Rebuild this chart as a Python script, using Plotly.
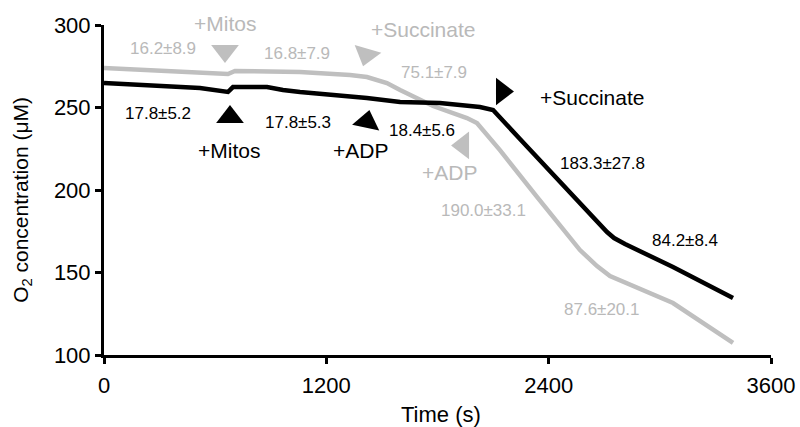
import plotly.graph_objects as go

# ---------------- data ----------------
time_black = [0, 248, 518, 669, 696, 880, 966, 1058, 1236, 1419, 1598, 1813, 2029, 2100,
              2245, 2461, 2677, 2715, 2753, 2812, 3071, 3395]
o2_black = [264.8, 263.6, 261.8, 259.4, 262.4, 262.4, 260.6, 259.4, 257.6, 255.8, 253.3, 252.7,
            250.3, 248.5, 230.9, 204.8, 179.4, 174.5, 170.9, 167.3, 153.3, 134.5]

time_gray = [0, 518, 642, 669, 707, 1058, 1328, 1419, 1527, 1598, 1776, 1959, 2013, 2137,
             2337, 2477, 2569, 2661, 2731, 3071, 3395]
o2_gray = [273.9, 271.5, 270.9, 270.3, 272.1, 271.5, 269.7, 268.5, 264.8, 260.6, 250.9, 243.6,
           240.6, 224.2, 195.8, 177.0, 163.6, 153.9, 147.9, 131.5, 107.3]

rate_labels_black = ["17.8±5.2", "17.8±5.3", "18.4±5.6", "183.3±27.8", "84.2±8.4"]
rate_labels_gray = ["16.2±8.9", "16.8±7.9", "75.1±7.9", "190.0±33.1", "87.6±20.1"]
addition_labels_black = ["+Mitos", "+ADP", "+Succinate"]
addition_labels_gray = ["+Mitos", "+Succinate", "+ADP"]

x_ticks = [0, 1200, 2400, 3600]
y_ticks = [100, 150, 200, 250, 300]
x_title = "Time (s)"
y_title = "O<sub>2</sub> concentration (μM)"

# ---------------- annotation anchors (time s, O2 uM) ----------------
rate_pos_black = [(291, 246.1), (1047, 241.2), (1716, 235.8), (2693, 215.8), (3136, 169.1)]
rate_pos_gray = [(318, 285.5), (1042, 283.0), (1781, 271.5), (2046, 187.3), (2688, 127.3)]
add_pos_black = [(675, 224.2), (1382, 224.2), (2634, 255.8)]
add_pos_gray = [(653, 301.2), (1722, 297.0), (1867, 210.9)]

tri_black = [(680, 244.3, "triangle-up", 0), (1419, 241.4, "triangle-up", 12),
             (2148, 259.7, "triangle-right", 0)]
tri_gray = [(653, 284.2, "triangle-down", 0), (1416, 282.0, "triangle-down", 16),
            (1938, 227.0, "triangle-left", 0)]

BLACK = "#000000"
GRAY = "#bfbfbf"
GRAY_TXT = "#b9b9b9"
FONT = "Liberation Sans, Arial, sans-serif"
Y_MIN, Y_MAX = 100, 300

fig = go.Figure()
fig.add_trace(go.Scatter(x=time_gray, y=o2_gray, mode="lines",
                         line=dict(color=GRAY, width=4.5), hoverinfo="skip"))
fig.add_trace(go.Scatter(x=time_black, y=o2_black, mode="lines",
                         line=dict(color=BLACK, width=4.5), hoverinfo="skip"))

for tris, col in ((tri_black, BLACK), (tri_gray, GRAY)):
    fig.add_trace(go.Scatter(
        x=[t[0] for t in tris], y=[t[1] for t in tris], mode="markers",
        marker=dict(symbol=[t[2] for t in tris], angle=[t[3] for t in tris],
                    size=24, color=col, line=dict(width=0)),
        cliponaxis=False, hoverinfo="skip"))

annotations = []
for labels, pos, col, size in ((rate_labels_black, rate_pos_black, BLACK, 17),
                               (rate_labels_gray, rate_pos_gray, GRAY_TXT, 17),
                               (addition_labels_black, add_pos_black, BLACK, 21),
                               (addition_labels_gray, add_pos_gray, GRAY_TXT, 21)):
    for txt, (x, y) in zip(labels, pos):
        if y > Y_MAX:
            # above the plotting area: place in paper coordinates so it is not hidden
            ann = dict(x=x, y=(y - Y_MIN) / (Y_MAX - Y_MIN), xref="x", yref="paper")
        else:
            ann = dict(x=x, y=y, xref="x", yref="y")
        ann.update(text=txt, showarrow=False, xanchor="center", yanchor="middle",
                   font=dict(family=FONT, size=size, color=col))
        annotations.append(ann)

# axis titles as text placed in paper coordinates
annotations.append(dict(x=-0.123, y=0.47, xref="paper", yref="paper",
                        text=y_title, textangle=-90,
                        showarrow=False, xanchor="center", yanchor="middle",
                        font=dict(family=FONT, size=21, color="#000")))
annotations.append(dict(x=0.505, y=-0.179, xref="paper", yref="paper",
                        text=x_title, showarrow=False, xanchor="center", yanchor="middle",
                        font=dict(family=FONT, size=22, color="#000")))

fig.update_layout(
    width=800, height=427,
    margin=dict(l=104, r=29, t=25, b=72, autoexpand=False),
    plot_bgcolor="white", paper_bgcolor="white",
    showlegend=False,
    font=dict(family=FONT, color="#000000"),
    annotations=annotations,
)
fig.update_xaxes(range=[0, 3600], tickvals=x_ticks, showgrid=False, zeroline=False,
                 automargin=False,
                 showline=True, linecolor="black", linewidth=3,
                 ticks="outside", ticklen=6, tickwidth=3, tickcolor="black",
                 ticklabelstandoff=3,
                 tickfont=dict(size=22, family=FONT, color="#000"))
fig.update_yaxes(range=[Y_MIN, Y_MAX], tickvals=y_ticks, showgrid=False, zeroline=False,
                 automargin=False,
                 showline=True, linecolor="black", linewidth=3,
                 ticks="outside", ticklen=6, tickwidth=3, tickcolor="black",
                 tickfont=dict(size=22, family=FONT, color="#000"))

fig.write_html("out.html")
